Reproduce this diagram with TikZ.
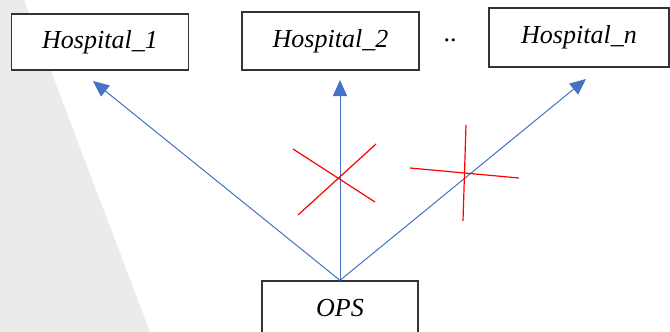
\documentclass[tikz,border=0pt]{standalone}
\usepackage{fontspec}
\setmainfont{Liberation Serif}
\usetikzlibrary{arrows.meta}
\definecolor{bgray}{HTML}{EBEBEB}
\definecolor{arrblue}{HTML}{4472C4}
\definecolor{boxline}{HTML}{333333}
\begin{document}
\begin{tikzpicture}[x=1pt,y=-1pt,
  hbox/.style={draw=boxline,line width=1.3pt,fill=white,inner sep=0pt,
    font=\fontsize{26}{30}\selectfont\itshape},
  link/.style={draw=arrblue,line width=1pt,-{Triangle[length=16pt,width=14pt]}},
  cross/.style={draw=red,line width=1.2pt}]
\useasboundingbox (0,0) rectangle (670,332);
\clip (0,0) rectangle (670,332);
\fill[bgray] (0,0) -- (24,0) -- (150,332) -- (0,332) -- cycle;
\node[hbox,minimum width=177pt,minimum height=56pt] (h1) at (100,42) {Hospital\_1};
\node[hbox,minimum width=177pt,minimum height=58pt] (h2) at (330.5,41) {Hospital\_2};
\node[hbox,minimum width=180pt,minimum height=59pt] (hn) at (579,37.5) {Hospital\_n};
\node[font=\fontsize{26}{30}\selectfont] (dots) at (450,40) {..};
\node[hbox,minimum width=156pt,minimum height=54pt] (ops) at (340,308) {OPS};
\coordinate (t1) at (93,81);
\coordinate (t2) at (340,80);
\coordinate (tn) at (586,79);
\draw[link] (ops.north) -- (t1);
\draw[link] (ops.north) -- (t2);
\draw[link] (ops.north) -- (tn);
\draw[cross] (293,149) -- (375,202);
\draw[cross] (298,215) -- (376,144);
\draw[cross] (410,168) -- (519,178);
\draw[cross] (466,125) -- (463,221);
\end{tikzpicture}
\end{document}
